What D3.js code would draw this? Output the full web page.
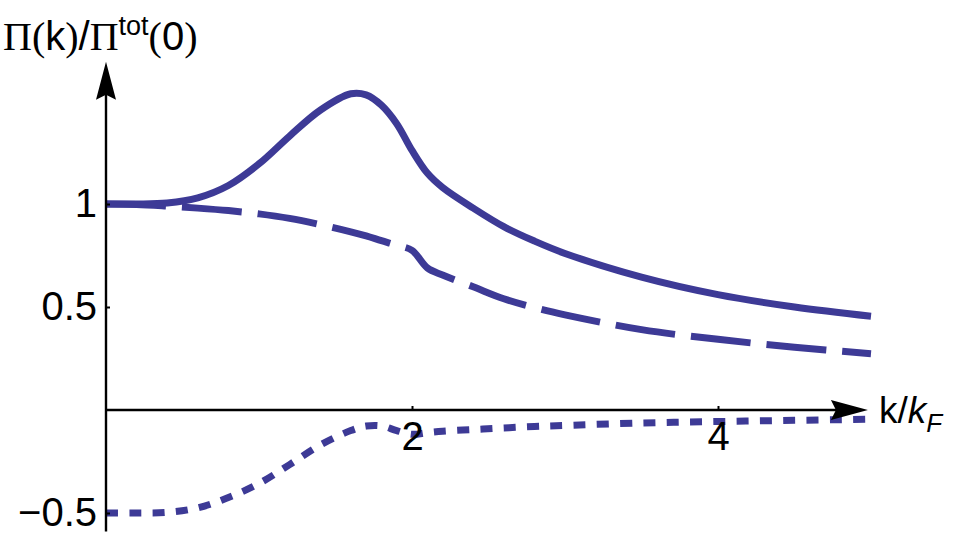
<!DOCTYPE html>
<html>
<head>
<meta charset="utf-8">
<script src="https://cdn.jsdelivr.net/npm/d3@7/dist/d3.min.js"></script>
<style>
  body { margin: 0; background: #fff; }
  svg { display: block; }
</style>
</head>
<body>
<div id="chart"></div>
<script>
// k / k_F sample points
var kValues = [0, 0.2, 0.4, 0.6, 0.8, 1.0, 1.2, 1.4, 1.6, 1.7, 1.8, 1.9, 2.0, 2.1, 2.2, 2.4, 2.6, 2.8, 3.0, 3.5, 4.0, 4.5, 5.0];

// solid curve
var totalValues = [1.0, 1.0, 1.005, 1.03, 1.09, 1.195, 1.33, 1.455, 1.535, 1.53, 1.48, 1.39, 1.26, 1.15, 1.08, 0.98, 0.89, 0.82, 0.76, 0.645, 0.56, 0.50, 0.455];
// dashed curve
var dashedValues = [1.0, 0.998, 0.99, 0.98, 0.968, 0.952, 0.93, 0.9, 0.865, 0.845, 0.822, 0.8, 0.775, 0.69, 0.655, 0.598, 0.54, 0.497, 0.462, 0.39, 0.343, 0.305, 0.273];
// dotted curve
var dottedValues = [-0.5, -0.5, -0.497, -0.475, -0.425, -0.357, -0.265, -0.17, -0.1, -0.078, -0.077, -0.1, -0.118, -0.11, -0.103, -0.095, -0.087, -0.08, -0.075, -0.063, -0.056, -0.05, -0.045];

var xTicks = [2, 4];
var xTickLabels = ['2', '4'];
var yTicks = [-0.5, 0.5, 1];
var yTickLabels = ['\u22120.5', '0.5', '1'];

var width = 961, height = 544;
var color = '#3d3a96';

var svg = d3.select('#chart').append('svg')
	.attr('width', width)
	.attr('height', height);

var xScale = d3.scaleLinear()
	.domain([0, 5])
	.range([106, 871]);

var yScale = d3.scaleLinear()
	.domain([-0.5, 1])
	.range([513, 204]);

// axis extents (data units)
var xAxisEnd = 4.98;
var yAxisTop = 1.69;
var yAxisBottom = -0.59;

var x0 = xScale(0), y0 = yScale(0);

// curves
var series = [
	{ values: totalValues, dash: null },
	{ values: dashedValues, dash: '60,16' },
	{ values: dottedValues, dash: '12,11.3' }
];

var line = d3.line()
	.x(function(d) { return xScale(d[0]); })
	.y(function(d) { return yScale(d[1]); })
	.curve(d3.curveCatmullRom.alpha(0.5));

series.forEach(function(s) {
	var pts = kValues.map(function(k, i) { return [k, s.values[i]]; });
	svg.append('path')
		.attr('d', line(pts))
		.attr('fill', 'none')
		.attr('stroke', color)
		.attr('stroke-width', 7)
		.attr('stroke-dasharray', s.dash);
});

// axes
var xAxis = d3.axisBottom(xScale)
	.tickValues(xTicks)
	.tickFormat(function(d, i) { return xTickLabels[i]; })
	.tickSizeInner(-4)
	.tickSizeOuter(0)
	.tickPadding(12);

var yAxis = d3.axisLeft(yScale)
	.tickValues(yTicks)
	.tickFormat(function(d, i) { return yTickLabels[i]; })
	.tickSizeInner(-4)
	.tickSizeOuter(0)
	.tickPadding(9);

var xAxisG = svg.append('g')
	.attr('transform', 'translate(0,' + y0 + ')')
	.call(xAxis);

var yAxisG = svg.append('g')
	.attr('transform', 'translate(' + x0 + ',0)')
	.call(yAxis);

[xAxisG, yAxisG].forEach(function(g) {
	g.select('.domain').remove();
	g.selectAll('line').attr('stroke', '#000').attr('stroke-width', 2);
	g.selectAll('text')
		.attr('fill', '#000')
		.style('font-family', '"Liberation Sans", Arial, sans-serif')
		.style('font-size', '40px');
});

// axis lines with arrowheads
svg.append('line')
	.attr('x1', x0).attr('y1', y0)
	.attr('x2', xScale(xAxisEnd) - 20).attr('y2', y0)
	.attr('stroke', '#000').attr('stroke-width', 2.4);

svg.append('line')
	.attr('x1', x0).attr('y1', yScale(yAxisBottom))
	.attr('x2', x0).attr('y2', yScale(yAxisTop) + 20)
	.attr('stroke', '#000').attr('stroke-width', 2.4);

var xt = xScale(xAxisEnd);
svg.append('path')
	.attr('d', 'M' + xt + ',' + y0 +
		'L' + (xt - 37) + ',' + (y0 - 10) +
		'L' + (xt - 32) + ',' + y0 +
		'L' + (xt - 37) + ',' + (y0 + 10) + 'Z')
	.attr('fill', '#000');

var yt = yScale(yAxisTop);
svg.append('path')
	.attr('d', 'M' + x0 + ',' + yt +
		'L' + (x0 - 10) + ',' + (yt + 38) +
		'L' + x0 + ',' + (yt + 33) +
		'L' + (x0 + 10) + ',' + (yt + 38) + 'Z')
	.attr('fill', '#000');

// y label
var sans = '"Liberation Sans", Arial, sans-serif';
var serif = '"Liberation Serif", "Times New Roman", serif';

var yLabel = svg.append('text')
	.attr('x', 3)
	.attr('y', 50)
	.style('font-size', '40px')
	.attr('fill', '#000');

[
	['\u03A0', serif, 0], ['(', serif, 0], ['k', sans, 0], [')', serif, 0],
	['/', sans, 0], ['\u03A0', serif, 0], ['tot', sans, -15], ['(', serif, 15],
	['0', sans, 0], [')', serif, 0]
].forEach(function(p) {
	var t = yLabel.append('tspan')
		.text(p[0])
		.style('font-family', p[1])
		.attr('dy', p[2]);
	if (p[0] === 'tot') t.style('font-size', '27px');
});

// x label
var xLabel = svg.append('text')
	.attr('x', 879)
	.attr('y', 423)
	.style('font-size', '37px')
	.style('font-family', sans)
	.attr('fill', '#000');

xLabel.append('tspan').text('k/');
xLabel.append('tspan').text('k').style('font-style', 'italic');
xLabel.append('tspan').text('F').style('font-style', 'italic').style('font-size', '26px').attr('dy', 9);
</script>
</body>
</html>
